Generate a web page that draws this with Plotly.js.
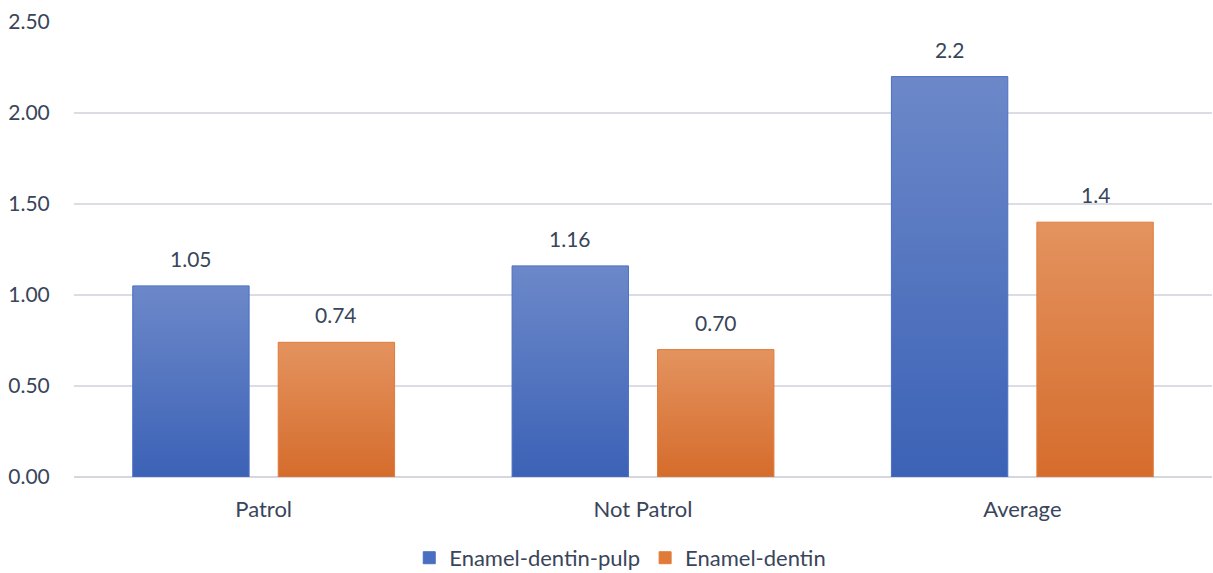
<!DOCTYPE html>
<html>
<head>
<meta charset="utf-8">
<script src="https://cdn.plot.ly/plotly-3.0.1.min.js"></script>
<style>
  html, body { margin: 0; padding: 0; background: #ffffff; }
  #chart { width: 1213px; height: 573px; }
</style>
</head>
<body>
<div id="chart"></div>
<script>
// Categories and series
const categories = ['Patrol', 'Not Patrol', 'Average'];
const seriesNames = ['Enamel-dentin-pulp', 'Enamel-dentin'];
const pulpValues = [1.05, 1.16, 2.2];
const dentinValues = [0.74, 0.70, 1.4];
const pulpLabels = ['1.05', '1.16', '2.2'];
const dentinLabels = ['0.74', '0.70', '1.4'];

const textColor = '#39455a';
const fontFamily = 'Lato, "Open Sans", sans-serif';
const BARGAP = 0.233;
const BARGROUPGAP = 0.2;

// Gradient stops (top, bottom) and borders for each series
const palette = [
  { top: '#6c88c9', bottom: '#3c62b6', solid: '#4a6fc0', line: '#4a70c2' },
  { top: '#e4935f', bottom: '#d56c2c', solid: '#e07a38', line: '#e07b3a' }
];

const traces = [
  {
    type: 'bar', name: seriesNames[0], x: categories, y: pulpValues,
    marker: { color: palette[0].solid, line: { color: palette[0].line, width: 1 } },
    hoverinfo: 'skip'
  },
  {
    type: 'bar', name: seriesNames[1], x: categories, y: dentinValues,
    marker: { color: palette[1].solid, line: { color: palette[1].line, width: 1 } },
    hoverinfo: 'skip'
  }
];

// Value labels above each bar, positioned at the bar's own value
const slot = (1 - BARGAP) / 2;
const annotations = [];
[[pulpValues, pulpLabels, -slot / 2], [dentinValues, dentinLabels, slot / 2]].forEach(([vals, labels, off]) => {
  vals.forEach((v, i) => {
    annotations.push({
      x: i + off, y: v, xref: 'x', yref: 'y',
      text: labels[i], showarrow: false,
      yanchor: 'bottom', yshift: 13,
      font: { family: fontFamily, size: 21, color: textColor }
    });
  });
});

const layout = {
  width: 1213, height: 573,
  margin: { l: 74, r: 1, t: 22, b: 96, autoexpand: false },
  paper_bgcolor: '#ffffff', plot_bgcolor: '#ffffff',
  font: { family: fontFamily, size: 21, color: textColor },
  barmode: 'group', bargap: BARGAP, bargroupgap: BARGROUPGAP,
  showlegend: true,
  legend: {
    orientation: 'h', x: 0.48, xanchor: 'center', y: -0.224, yanchor: 'bottom',
    font: { family: fontFamily, size: 22, color: textColor },
    itemwidth: 30, traceorder: 'normal', borderwidth: 0
  },
  xaxis: {
    type: 'category', showgrid: false, zeroline: false,
    showline: false, ticks: 'outside', ticklen: 13, tickcolor: 'rgba(0,0,0,0)',
    tickfont: { family: fontFamily, size: 22, color: textColor },
    fixedrange: true
  },
  yaxis: {
    range: [0, 2.5], dtick: 0.5, tick0: 0, tickformat: '.2f',
    showgrid: true, gridcolor: '#dcdce4', gridwidth: 1.5,
    zeroline: true, zerolinecolor: '#d6d6e0', zerolinewidth: 1.5,
    showline: false, ticks: 'outside', ticklen: 19, tickcolor: 'rgba(0,0,0,0)',
    tickfont: { family: fontFamily, size: 21, color: textColor },
    fixedrange: true
  },
  annotations: annotations
};

Plotly.newPlot('chart', traces, layout, { displayModeBar: false, staticPlot: true }).then((gd) => {
  // Vertical gradient fill for the bars: lighter at the top, deeper at the base
  const svg = gd.querySelector('svg.main-svg');
  const NS = 'http://www.w3.org/2000/svg';
  let defs = svg.querySelector('defs');
  if (!defs) { defs = document.createElementNS(NS, 'defs'); svg.insertBefore(defs, svg.firstChild); }
  palette.forEach((p, k) => {
    const g = document.createElementNS(NS, 'linearGradient');
    g.setAttribute('id', 'barfill' + k);
    g.setAttribute('x1', '0'); g.setAttribute('y1', '0');
    g.setAttribute('x2', '0'); g.setAttribute('y2', '1');
    [['0', p.top], ['1', p.bottom]].forEach(([o, c]) => {
      const s = document.createElementNS(NS, 'stop');
      s.setAttribute('offset', o); s.setAttribute('stop-color', c);
      g.appendChild(s);
    });
    defs.appendChild(g);
  });
  gd.querySelectorAll('.barlayer .trace').forEach((tr, k) => {
    tr.querySelectorAll('.point path').forEach((p) => {
      p.style.fill = 'url(#barfill' + k + ')';
    });
  });
});
</script>
</body>
</html>
